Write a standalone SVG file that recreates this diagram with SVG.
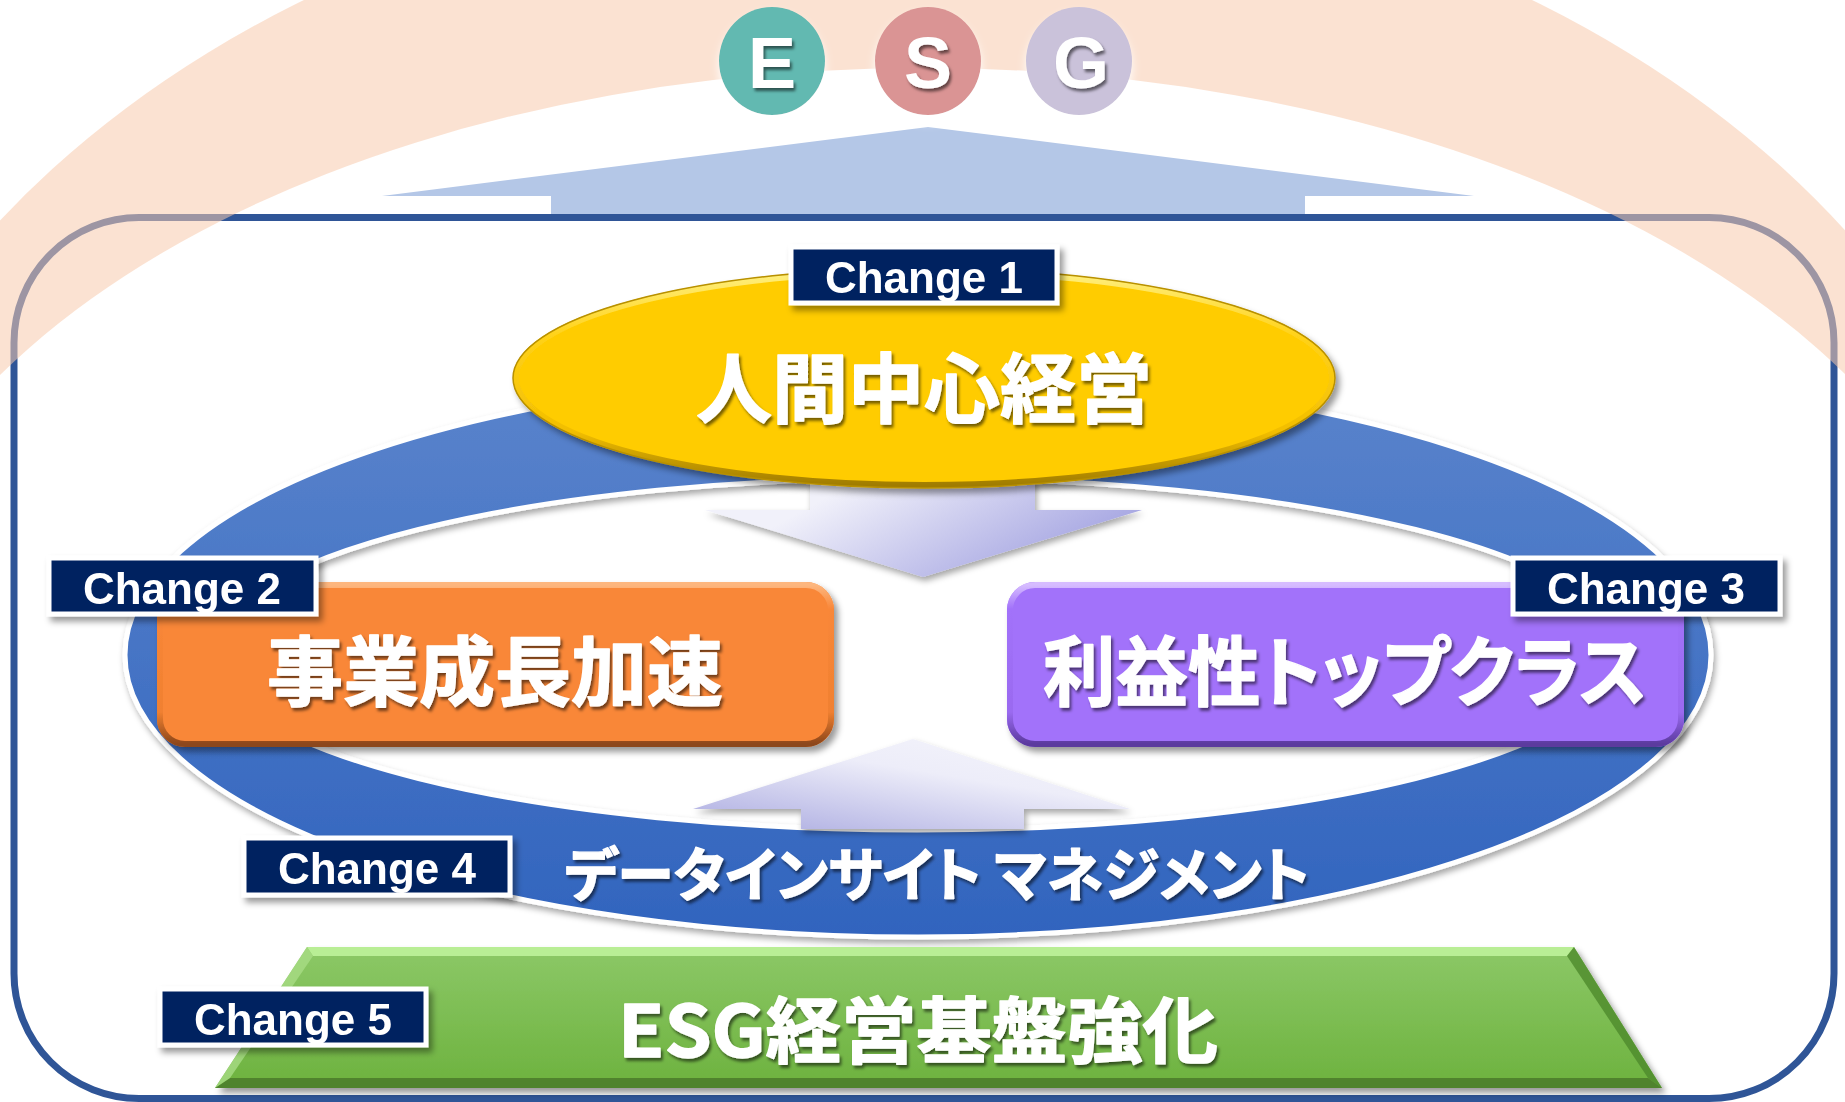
<svg xmlns="http://www.w3.org/2000/svg" width="1845" height="1102" viewBox="0 0 1845 1102">
<defs>
<style>
.lbl .box{fill:#002060;stroke:#fff;stroke-width:5}
.lbl text{font-family:'Liberation Sans',Arial,sans-serif;font-weight:bold;font-size:44px;fill:#fff;text-anchor:middle}
.jp{font-family:'Noto Sans CJK JP','Noto Sans CJK SC',sans-serif;font-weight:bold;fill:#fff;stroke:#fff;stroke-width:1.4;stroke-linejoin:round;text-anchor:middle;font-feature-settings:"palt"}
.esgl{font-family:'Liberation Sans',Arial,sans-serif;font-weight:bold;font-size:72px;fill:#fff;text-anchor:middle}
</style>
<filter id="sh" x="-10%" y="-20%" width="125%" height="150%"><feDropShadow dx="4" dy="5" stdDeviation="3" flood-color="#000" flood-opacity="0.4"/></filter>
<filter id="shs" x="-10%" y="-20%" width="125%" height="150%"><feDropShadow dx="2" dy="4" stdDeviation="3" flood-color="#000" flood-opacity="0.35"/></filter>
<filter id="tsh" x="-10%" y="-20%" width="125%" height="150%"><feDropShadow dx="2" dy="3" stdDeviation="1.5" flood-color="#000" flood-opacity="0.55"/></filter>
<filter id="glow" x="-30%" y="-30%" width="160%" height="170%"><feDropShadow dx="0" dy="7" stdDeviation="5" flood-color="#fff" flood-opacity="0.95"/></filter>
<clipPath id="peachClip"><rect x="0" y="0" width="1845" height="600"/></clipPath>
<linearGradient id="ringG" x1="0" y1="0" x2="0" y2="1"><stop offset="0" stop-color="#5A84CC"/><stop offset="1" stop-color="#3164BE"/></linearGradient>
<linearGradient id="downG" x1="0" y1="0" x2="1" y2="0.4"><stop offset="0.3" stop-color="#F1F1FA"/><stop offset="1" stop-color="#A6A6E2"/></linearGradient>
<linearGradient id="upG" x1="0.1" y1="1" x2="0.9" y2="0"><stop offset="0" stop-color="#AFAFE2"/><stop offset="0.6" stop-color="#EDEDF9"/><stop offset="1" stop-color="#F4F4FB"/></linearGradient>
<linearGradient id="yelRim" x1="0" y1="0" x2="0" y2="1"><stop offset="0" stop-color="#FFF080"/><stop offset="0.3" stop-color="#FFD21A"/><stop offset="0.75" stop-color="#F2BE00"/><stop offset="1" stop-color="#A07C00"/></linearGradient>
<linearGradient id="orRim" x1="0" y1="0" x2="0" y2="1"><stop offset="0" stop-color="#FDB67E"/><stop offset="0.15" stop-color="#F98739"/><stop offset="0.8" stop-color="#F08030"/><stop offset="1" stop-color="#8C461A"/></linearGradient>
<linearGradient id="puRim" x1="0" y1="0" x2="0" y2="1"><stop offset="0" stop-color="#D6BCFF"/><stop offset="0.15" stop-color="#A272FA"/><stop offset="0.8" stop-color="#9A6AF0"/><stop offset="1" stop-color="#5B3A9E"/></linearGradient>
<linearGradient id="grG" x1="0" y1="0" x2="0" y2="1"><stop offset="0" stop-color="#8CC867"/><stop offset="1" stop-color="#6DB23E"/></linearGradient>
</defs>

<rect x="0" y="0" width="1845" height="1102" fill="#fff"/>

<!-- big upward arrow to ESG -->
<g id="connectors">
<polygon id="arrow-up-esg" points="928,127 1474,196 1305,196 1305,216 551,216 551,196 382,196" fill="#B4C7E7"/>
</g>

<!-- frame -->
<g id="frame">
<rect x="14" y="217.5" width="1820" height="881" rx="125" ry="125" fill="none" stroke="#2F5597" stroke-width="7"/>
</g>

<!-- peach arc -->
<g id="peach-arc" clip-path="url(#peachClip)">
<path d="M-202,700 a1120,837 0 1,0 2240,0 a1120,837 0 1,0 -2240,0 Z M-152,698 a1075,630 0 1,0 2150,0 a1075,630 0 1,0 -2150,0 Z" fill="#F8CBAD" fill-opacity="0.55" fill-rule="evenodd"/>
</g>

<!-- ESG circles -->
<g id="node-e" filter="url(#glow)">
<ellipse cx="772" cy="61" rx="53" ry="54" fill="#62B9B1"/>
<text class="esgl" x="772" y="88" filter="url(#tsh)">E</text>
</g>
<g id="node-s" filter="url(#glow)">
<ellipse cx="928" cy="61" rx="53" ry="54" fill="#DA9494"/>
<text class="esgl" x="928" y="88" filter="url(#tsh)">S</text>
</g>
<g id="node-g" filter="url(#glow)">
<ellipse cx="1079" cy="61" rx="53" ry="54" fill="#CAC2DA"/>
<text class="esgl" x="1081" y="88" filter="url(#tsh)">G</text>
</g>

<!-- blue ring -->
<g id="node-ring" filter="url(#shs)">
<path d="M125,655 a793,282 0 1,0 1586,0 a793,282 0 1,0 -1586,0 Z M212,654 a705,176 0 1,0 1410,0 a705,176 0 1,0 -1410,0 Z" fill="url(#ringG)" fill-rule="evenodd" stroke="#fff" stroke-width="5"/>
</g>

<!-- inner arrows -->
<g id="connectors-inner">
<polygon id="arrow-down" points="810,480 1035,480 1035,510 1142,510 923,577 705,510 810,510" fill="url(#downG)" filter="url(#shs)"/>
<polygon id="arrow-up" points="913,739 1130,809 1024,809 1024,829 801,829 801,809 693,809" fill="url(#upG)" filter="url(#shs)"/>
</g>

<!-- Change 1 yellow ellipse -->
<g id="node-change1" filter="url(#sh)">
<ellipse cx="924" cy="378" rx="411" ry="110" fill="#FFCC00"/>
<ellipse cx="924" cy="378" rx="408" ry="107" fill="none" stroke="url(#yelRim)" stroke-width="6"/>
<ellipse cx="924" cy="378" rx="411" ry="110" fill="none" stroke="#B89000" stroke-width="1.5"/>
</g>
<text class="jp" x="924" y="417" font-size="76" filter="url(#tsh)">人間中心経営</text>

<!-- Change 2 orange -->
<g id="node-change2" filter="url(#sh)">
<rect x="157" y="582" width="677" height="165" rx="28" fill="#F98739"/>
<rect x="160" y="585" width="671" height="159" rx="25" fill="none" stroke="url(#orRim)" stroke-width="6"/>
</g>
<text class="jp" x="495" y="700" font-size="76" filter="url(#tsh)">事業成長加速</text>

<!-- Change 3 purple -->
<g id="node-change3" filter="url(#sh)">
<rect x="1007" y="582" width="677" height="165" rx="28" fill="#A272FA"/>
<rect x="1010" y="585" width="671" height="159" rx="25" fill="none" stroke="url(#puRim)" stroke-width="6"/>
</g>
<text class="jp" x="1345" y="700" font-size="76" textLength="604" lengthAdjust="spacingAndGlyphs" filter="url(#tsh)">利益性トップクラス</text>

<!-- Change 4 text on ring -->
<text id="node-change4-text" class="jp" x="937" y="896" font-size="58" textLength="745" lengthAdjust="spacingAndGlyphs" filter="url(#tsh)">データインサイト マネジメント</text>

<!-- Change 5 green trapezoid -->
<g id="node-change5">
<g filter="url(#sh)">
<polygon points="307,947 1574,947 1662,1088 215,1088" fill="url(#grG)"/>
</g>
<polygon points="307,947 1574,947 1567,956 313,956" fill="#B9EE95"/>
<polygon points="1574,947 1662,1088 1648,1078 1567,956" fill="#4E8A2C" opacity="0.8"/>
<polygon points="215,1088 1662,1088 1648,1078 230,1078" fill="#4A7A2A" opacity="0.85"/>
<polygon points="307,947 313,956 230,1078 215,1088" fill="#A8DC85" opacity="0.8"/>
<text class="jp" x="918" y="1057" font-size="72" textLength="600" lengthAdjust="spacingAndGlyphs" filter="url(#tsh)">ESG経営基盤強化</text>
</g>

<!-- labels -->
<g id="label-change1" class="lbl" filter="url(#sh)">
<rect class="box" x="791" y="247" width="266" height="56"/>
<text x="924" y="293">Change 1</text>
</g>
<g id="label-change2" class="lbl" filter="url(#sh)">
<rect class="box" x="49" y="558" width="267" height="56"/>
<text x="182" y="604">Change 2</text>
</g>
<g id="label-change3" class="lbl" filter="url(#sh)">
<rect class="box" x="1513" y="558" width="267" height="56"/>
<text x="1646" y="604">Change 3</text>
</g>
<g id="label-change4" class="lbl" filter="url(#sh)">
<rect class="box" x="244" y="838" width="266" height="57"/>
<text x="377" y="884">Change 4</text>
</g>
<g id="label-change5" class="lbl" filter="url(#sh)">
<rect class="box" x="160" y="989" width="266" height="56"/>
<text x="293" y="1035">Change 5</text>
</g>
</svg>
